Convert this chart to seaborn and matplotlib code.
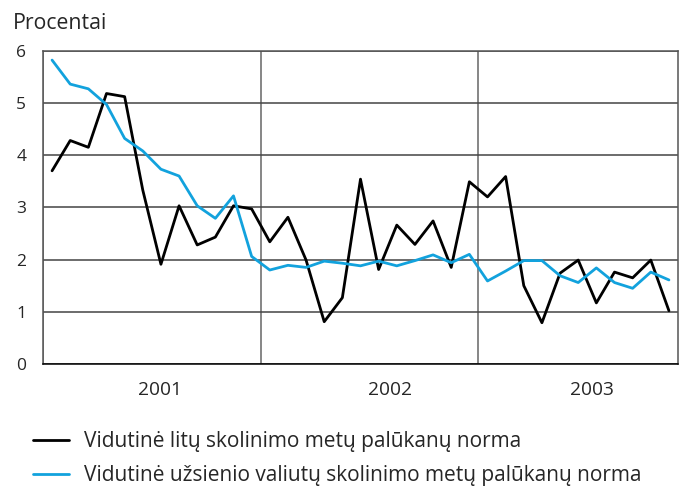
import numpy as np
import pandas as pd
import matplotlib
matplotlib.use("Agg")
import matplotlib.pyplot as plt
import seaborn as sns

# monthly data, 2001-01 .. 2003-11
litu = [3.70, 4.28, 4.15, 5.18, 5.12, 3.33, 1.91, 3.03, 2.28, 2.43, 3.03, 2.97,
        2.34, 2.81, 1.99, 0.81, 1.27, 3.54, 1.81, 2.66, 2.29, 2.74, 1.85, 3.49,
        3.20, 3.59, 1.50, 0.79, 1.74, 1.99, 1.17, 1.76, 1.65, 1.99, 1.02]
valiutu = [5.82, 5.36, 5.27, 4.97, 4.32, 4.08, 3.73, 3.60, 3.03, 2.79, 3.22, 2.06,
           1.80, 1.89, 1.85, 1.97, 1.93, 1.88, 1.97, 1.88, 1.98, 2.09, 1.94, 2.10,
           1.59, 1.78, 1.98, 1.98, 1.69, 1.56, 1.84, 1.56, 1.45, 1.76, 1.61]
metai = ["2001", "2002", "2003"]
lbl_litu = "Vidutinė litų skolinimo metų palūkanų norma"
lbl_val = "Vidutinė užsienio valiutų skolinimo metų palūkanų norma"

men = np.arange(len(litu)) + 0.5
df = pd.concat([
    pd.DataFrame({"men": men, "norma": litu, "serija": lbl_litu}),
    pd.DataFrame({"men": men, "norma": valiutu, "serija": lbl_val}),
])

sns.set_style("white")
plt.rcParams["font.family"] = ["Open Sans", "DejaVu Sans"]

fig = plt.figure(figsize=(6.83, 4.93), dpi=100)
ax = fig.add_axes([43 / 683, 1 - 364 / 493, 635 / 683, 313.3 / 493])

sns.lineplot(data=df, x="men", y="norma", hue="serija",
             palette={lbl_litu: "black", lbl_val: "#12a2dd"},
             linewidth=2.0, ax=ax, legend=False, zorder=3)

ax.set_xlim(0, 35)
ax.set_ylim(0, 6)
ax.set_yticks(range(0, 7))
ax.set_xticks([0, 12, 24])
ax.set_xticklabels([])
ax.set_xticks([6.45, 19.13, 30.27], minor=True)
ax.set_xticklabels(metai, minor=True)
ax.tick_params(axis="x", which="major", length=8, width=1, color="#555555", direction="out")
ax.tick_params(axis="x", which="minor", length=0, labelsize=13.8, pad=12)
ax.tick_params(axis="y", length=7, width=1, color="#444444", labelsize=12.5, pad=5, direction="out")
ax.grid(axis="y", color="#444444", linewidth=1.1)
ax.grid(axis="x", which="major", color="#666666", linewidth=1.1)
ax.set_xlabel("")
ax.set_ylabel("")
for s in ["left", "right", "top"]:
    ax.spines[s].set_color("#555555")
    ax.spines[s].set_linewidth(1.1)
ax.spines["bottom"].set_color("black")
ax.spines["bottom"].set_linewidth(1.1)

fig.text(13 / 683, 1 - 29 / 493, "Procentai", fontsize=15.3, va="baseline")

handles = [plt.Line2D([], [], color="black", linewidth=2.0),
           plt.Line2D([], [], color="#12a2dd", linewidth=2.0)]
fig.legend(handles, [lbl_litu, lbl_val], loc="upper left",
           bbox_to_anchor=(33 / 683, 1 - 431 / 493), frameon=False,
           fontsize=15, handlelength=1.75, handletextpad=0.7,
           labelspacing=0.62, borderpad=0, borderaxespad=0)

fig.savefig("out.png", dpi=100)
